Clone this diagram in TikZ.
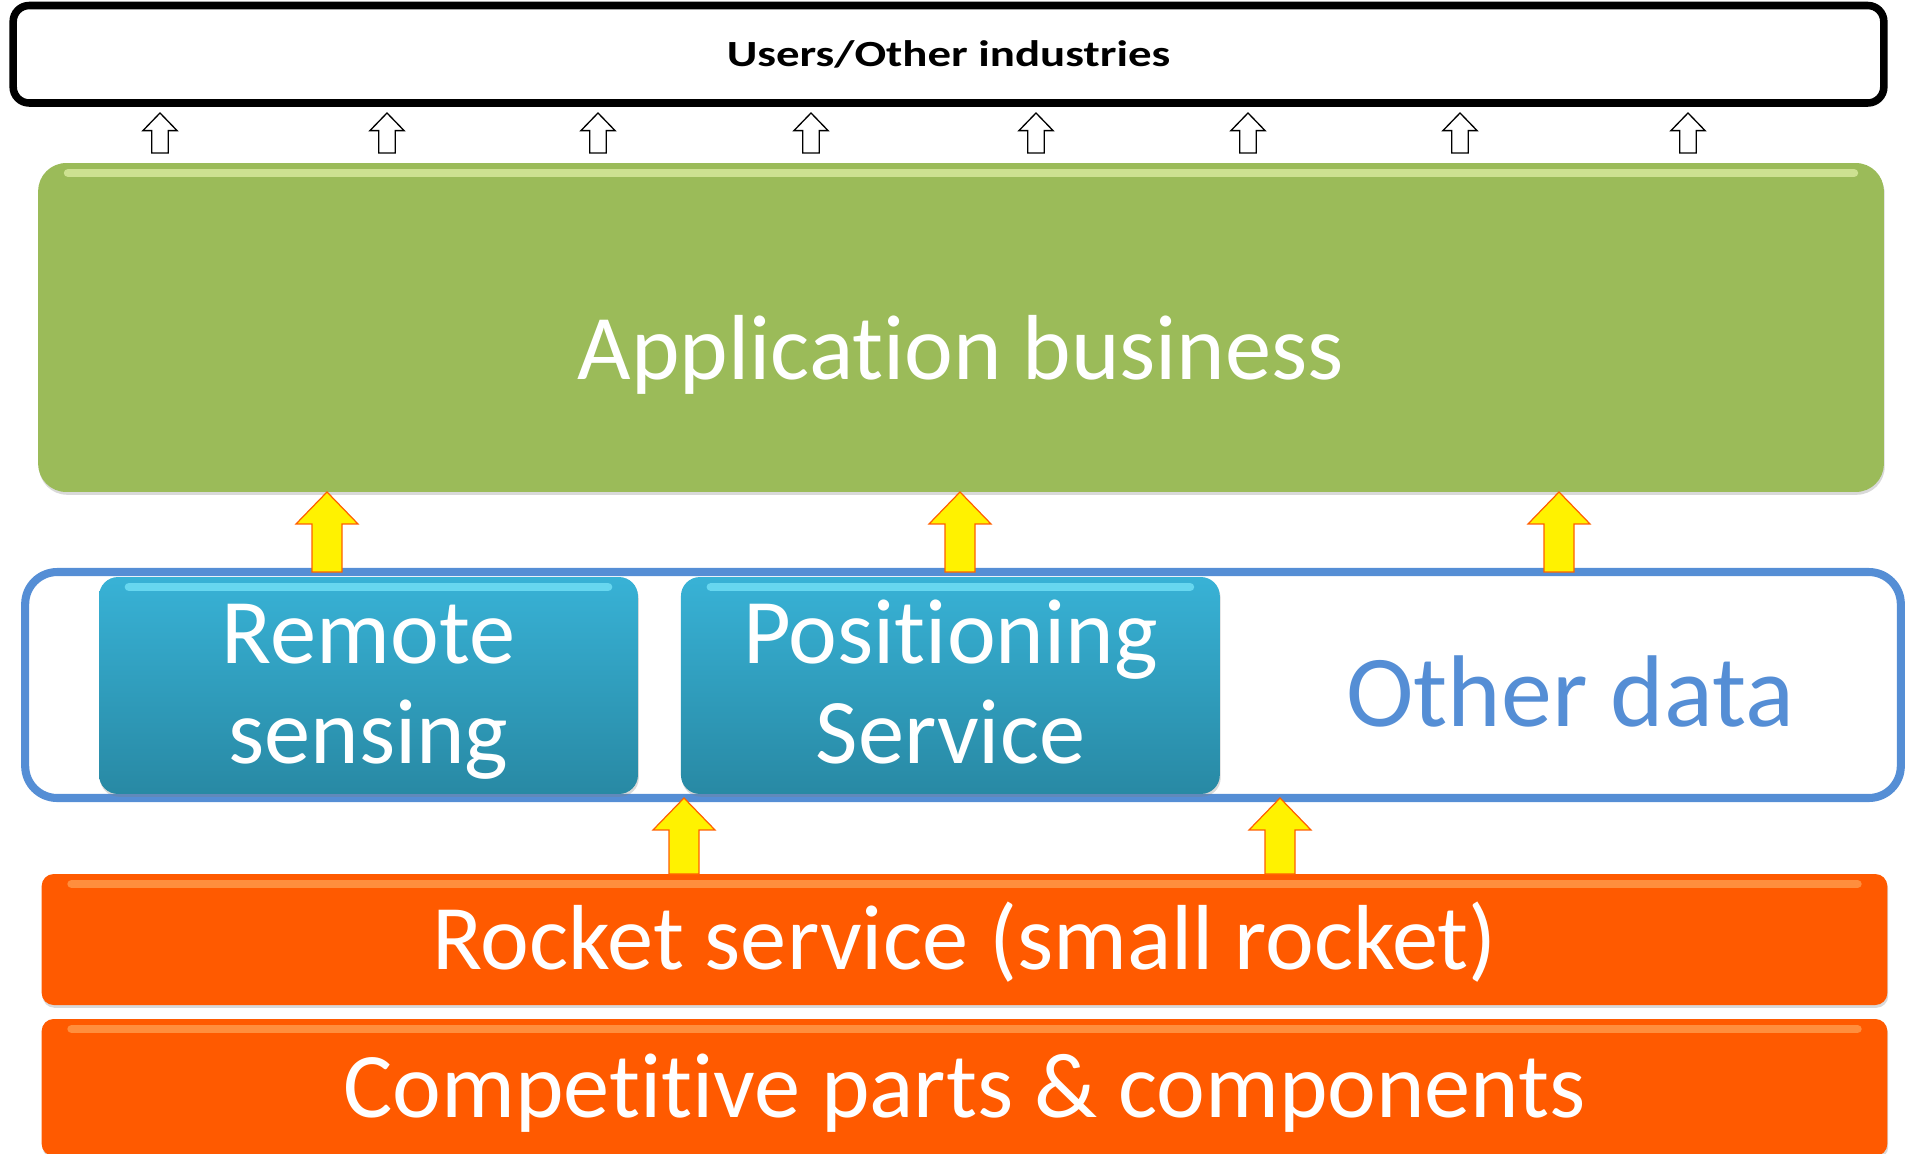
\documentclass[tikz,border=0pt]{standalone}
\usepackage{fontspec}
\setmainfont{Carlito}[Ligatures=NoCommon]
\newfontfamily\titlefont{Carlito}[FakeStretch=1.27,Ligatures=NoCommon]
\usepackage{tikz}
\usetikzlibrary{calc}
\usetikzlibrary{shadows}
\usetikzlibrary{positioning}

\definecolor{appgreen}{RGB}{155,187,89}
\definecolor{appshine}{RGB}{232,246,176}
\definecolor{datablue}{RGB}{85,142,213}
\definecolor{tealtop}{RGB}{56,178,214}
\definecolor{tealbot}{RGB}{40,137,164}
\definecolor{tealshine}{RGB}{130,236,255}
\definecolor{rockorange}{RGB}{255,90,0}
\definecolor{rockshine}{RGB}{255,170,95}
\definecolor{arrowline}{RGB}{255,96,0}

%% block arrow pointing up: style, base, tip, scale
\newcommand{\blockup}[4]{%
	\draw[#1] ($(#2)+(-15*#4,0)$) -- ($(#3)+(-15*#4,32*#4)$) -- ($(#3)+(-31*#4,32*#4)$) -- (#3)
		-- ($(#3)+(31*#4,32*#4)$) -- ($(#3)+(15*#4,32*#4)$) -- ($(#2)+(15*#4,0)$) -- cycle;}
%% two lines with fixed top and bottom
\newcommand{\twolines}[2]{\rule{0pt}{1.52cm}#1\\#2\rule[-0.4cm]{0pt}{0.4cm}}

\begin{document}
\begin{tikzpicture}[
			x=0.02cm, y=-0.02cm,
			outer sep=0pt,
			bigfont/.style={font=\fontsize{52.6}{57}\selectfont},
			softshadow/.style={drop shadow={shadow xshift=0.5pt, shadow yshift=-1.6pt, opacity=.3}},
			gloss/.style={path picture={
				\draw[#1, line width=5pt, line cap=round, opacity=.65]
					([xshift=0.6cm,yshift=-0.2cm]path picture bounding box.north west) --
					([xshift=-0.6cm,yshift=-0.2cm]path picture bounding box.north east);}},
			users/.style={draw=black, line width=4.3pt, rounded corners=0.32cm, fill=white,
				minimum width=37.42cm, minimum height=1.95cm,
				font=\titlefont\bfseries\fontsize{21}{25}\selectfont},
			appbox/.style={fill=appgreen, rounded corners=0.56cm,
				minimum width=36.92cm, minimum height=6.58cm,
				text=white, bigfont, gloss=appshine, softshadow},
			databox/.style={draw=datablue, line width=4.6pt, rounded corners=0.64cm,
				minimum width=37.52cm, minimum height=4.52cm},
			servicebox/.style={top color=tealtop, bottom color=tealbot, rounded corners=0.38cm,
				minimum width=10.78cm, minimum height=4.34cm, align=center,
				text=white, bigfont, gloss=tealshine, softshadow},
			barbox/.style={fill=rockorange, rounded corners=0.24cm,
				minimum width=36.92cm, minimum height=2.62cm,
				text height=1.2cm, text depth=0pt,
				text=white, bigfont, gloss=rockshine, softshadow},
			thinarrow/.style={draw=black, fill=white, line width=0.75pt, miter limit=10},
			fatarrow/.style={draw=arrowline, fill=yellow, line width=0.7pt, miter limit=10},
			]
			\useasboundingbox (0,0) rectangle (1906,1153);
			\node[users] (users) at (948.5,54.25) {Users/Other industries};
			\node[appbox, text height=2.1cm, text depth=0pt] (app) at (961,327.5) {Application business};
			\node[databox] (data) at (963,685) {};
			\node[servicebox] (remote) at (368.5,685.5) {\twolines{Remote}{sensing}};
			\node[servicebox, right=0.86cm of remote] (posn) {\twolines{Positioning}{Service}};
			\node[font=\fontsize{58}{62}\selectfont, text=datablue, anchor=base] (other) at (1570,726) {Other data};
			\node[barbox] (rocket) at (964.5,939.5) {Rocket service (small rocket)};
			\node[barbox, minimum height=2.74cm, below=0.28cm of rocket] (comp) {Competitive parts \& components};
			%% Path for arrows
			\foreach \x [count=\i] in {160,387,598,811,1036,1248,1460,1688} {
				\coordinate (sb\i) at ($(\x,0 |- app.north)+(0,-10)$);
				\coordinate (st\i) at ($(\x,0 |- users.south)+(0,10)$);
				\blockup{thinarrow}{sb\i}{st\i}{0.55}
			}
			\foreach \x [count=\i] in {327,960,1559} {
				\coordinate (yb\i) at (\x,0 |- data.north);
				\coordinate (yt\i) at (\x,0 |- app.south);
				\blockup{fatarrow}{yb\i}{yt\i}{1}
			}
			\foreach \x [count=\i] in {684,1280} {
				\coordinate (lb\i) at (\x,0 |- rocket.north);
				\coordinate (lt\i) at (\x,0 |- data.south);
				\blockup{fatarrow}{lb\i}{lt\i}{1}
			}
		\end{tikzpicture}
\end{document}
